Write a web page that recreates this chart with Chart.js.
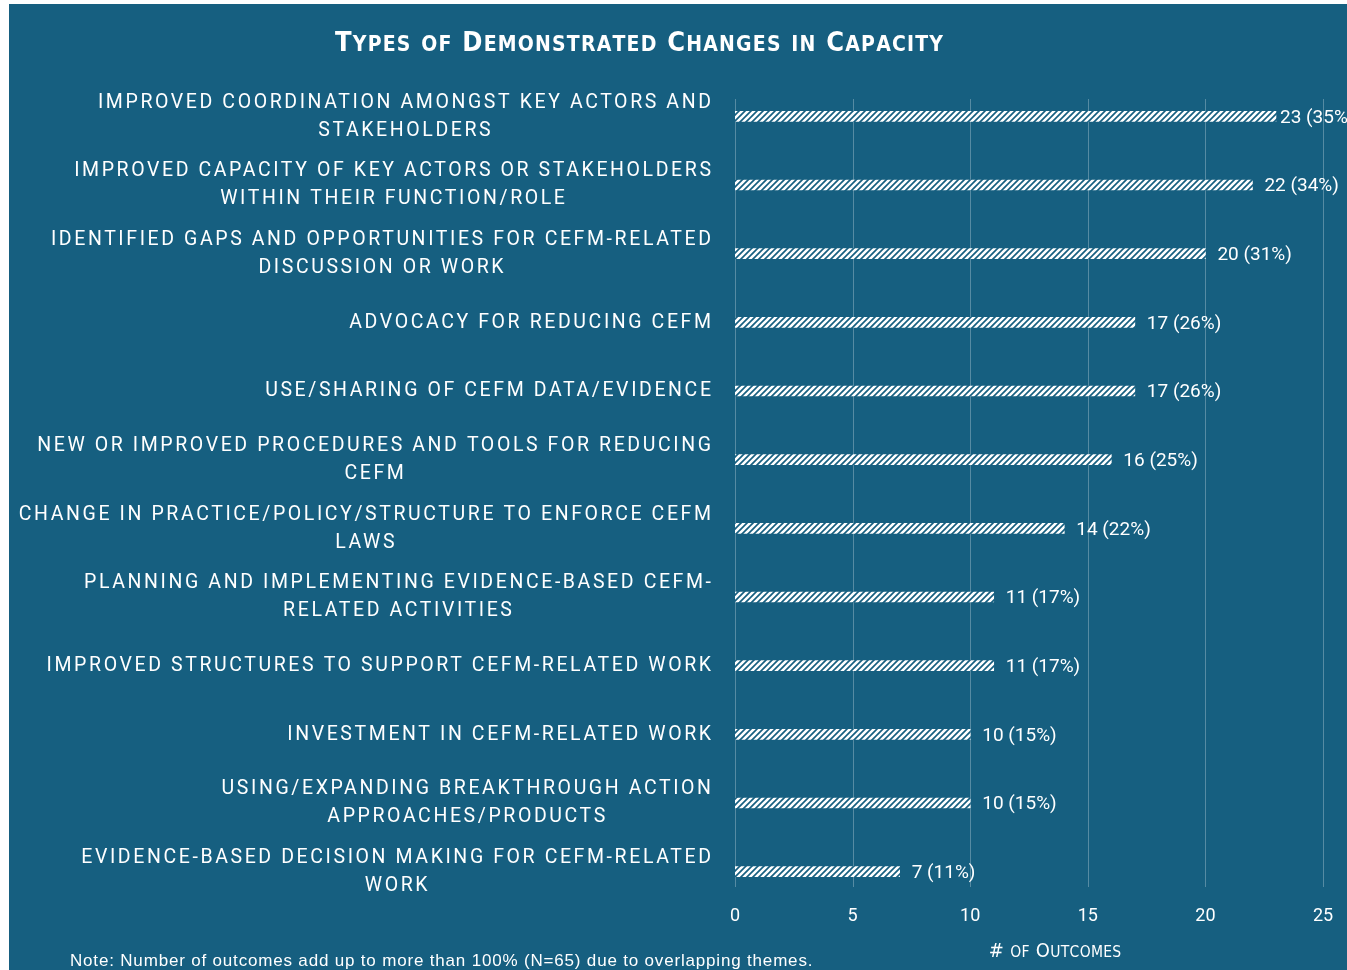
<!DOCTYPE html>
<html>
<head>
<meta charset="utf-8">
<script src="https://cdn.jsdelivr.net/npm/chart.js@4/dist/chart.umd.min.js"></script>
<style>
  html, body { margin: 0; padding: 0; background: #ffffff; width: 1347px; height: 970px; overflow: hidden; }
  #wrap { position: absolute; left: 9px; top: 4px; width: 1338px; height: 966px; }
  canvas { display: block; }
</style>
</head>
<body>
<div id="wrap"><canvas id="c" width="1338" height="966"></canvas></div>
<script>
// ---- data ----
const categories = [
  ["IMPROVED COORDINATION AMONGST KEY ACTORS AND", "STAKEHOLDERS"],
  ["IMPROVED CAPACITY OF KEY ACTORS OR STAKEHOLDERS", "WITHIN THEIR FUNCTION/ROLE"],
  ["IDENTIFIED GAPS AND OPPORTUNITIES FOR CEFM-RELATED", "DISCUSSION OR WORK"],
  ["ADVOCACY FOR REDUCING CEFM"],
  ["USE/SHARING OF CEFM DATA/EVIDENCE"],
  ["NEW OR IMPROVED PROCEDURES AND TOOLS FOR REDUCING", "CEFM"],
  ["CHANGE IN PRACTICE/POLICY/STRUCTURE TO ENFORCE CEFM", "LAWS"],
  ["PLANNING AND IMPLEMENTING EVIDENCE-BASED CEFM-", "RELATED ACTIVITIES"],
  ["IMPROVED STRUCTURES TO SUPPORT CEFM-RELATED WORK"],
  ["INVESTMENT IN CEFM-RELATED WORK"],
  ["USING/EXPANDING BREAKTHROUGH ACTION", "APPROACHES/PRODUCTS"],
  ["EVIDENCE-BASED DECISION MAKING FOR CEFM-RELATED", "WORK"]
];
const outcomes = [23, 22, 20, 17, 17, 16, 14, 11, 11, 10, 10, 7];
const percents = [35, 34, 31, 26, 26, 25, 22, 17, 17, 15, 15, 11];
const xTicks = [0, 5, 10, 15, 20, 25];
const titleText = "Types of Demonstrated Changes in Capacity";
const axisTitleText = "# of Outcomes";
const noteText = "Note: Number of outcomes add up to more than 100% (N=65) due to overlapping themes.";

// ---- styles ----
const BG = '#165F80';
const GRID = 'rgba(255,255,255,0.28)';
const LABEL_SPACING = 2.6;

function makePattern() {
  const s = 6;
  const c = document.createElement('canvas');
  c.width = s; c.height = s;
  const x = c.getContext('2d');
  x.fillStyle = BG; x.fillRect(0, 0, s, s);
  x.strokeStyle = '#ffffff'; x.lineWidth = 2.6;
  x.beginPath();
  for (let k = -1; k <= 1; k++) {
    x.moveTo(k * s - 1, s + 1); x.lineTo(k * s + s + 1, -1);
  }
  x.stroke();
  return document.getElementById('c').getContext('2d').createPattern(c, 'repeat');
}

function drawSmallCaps(ctx, text, cx, baseline, bigSize, smallSize, family, weight, spacing) {
  const runs = [];
  for (const ch of text) {
    const isLower = ch !== ch.toUpperCase();
    runs.push({ ch: ch.toUpperCase(), size: isLower ? smallSize : bigSize });
  }
  let total = 0;
  for (const r of runs) {
    ctx.font = `${weight} ${r.size}px ${family}`;
    r.w = ctx.measureText(r.ch).width + spacing;
    total += r.w;
  }
  total -= spacing;
  let x = cx - total / 2;
  ctx.textAlign = 'left';
  ctx.textBaseline = 'alphabetic';
  for (const r of runs) {
    ctx.font = `${weight} ${r.size}px ${family}`;
    ctx.fillText(r.ch, x, baseline);
    x += r.w;
  }
}

const bgPlugin = {
  id: 'bg',
  beforeDraw(chart) {
    const ctx = chart.ctx;
    ctx.save();
    ctx.fillStyle = BG;
    ctx.fillRect(0, 0, chart.width, chart.height);
    ctx.restore();
  }
};

const gridPlugin = {
  id: 'grid',
  beforeDatasetsDraw(chart) {
    const ctx = chart.ctx, xs = chart.scales.x;
    ctx.save();
    ctx.strokeStyle = GRID; ctx.lineWidth = 1;
    for (const t of xTicks) {
      const px = Math.round(xs.getPixelForValue(t)) + 0.5;
      ctx.beginPath();
      ctx.moveTo(px, 95); ctx.lineTo(px, 883);
      ctx.stroke();
    }
    ctx.restore();
  }
};

const labelsPlugin = {
  id: 'catLabels',
  afterDraw(chart) {
    const ctx = chart.ctx, ys = chart.scales.y;
    const right = chart.chartArea.left - 24;
    ctx.save();
    ctx.fillStyle = '#ffffff';
    ctx.font = '19.5px Roboto, "Noto Sans", sans-serif';
    ctx.letterSpacing = LABEL_SPACING + 'px';
    ctx.textBaseline = 'middle';
    ctx.textAlign = 'center';
    categories.forEach((lines, i) => {
      const cy = ys.getPixelForTick(i);
      let maxW = 0;
      lines.forEach(l => { maxW = Math.max(maxW, ctx.measureText(l).width - LABEL_SPACING); });
      const cx = right - maxW / 2 + LABEL_SPACING / 2;
      const y0 = cy - (lines.length - 1) * 14 + 0.5;
      lines.forEach((l, k) => ctx.fillText(l, cx, y0 + k * 28));
    });
    ctx.restore();

    // value labels
    const meta = chart.getDatasetMeta(0);
    ctx.save();
    ctx.fillStyle = '#ffffff';
    ctx.font = '19px Roboto, sans-serif';
    ctx.textBaseline = 'middle';
    ctx.textAlign = 'left';
    meta.data.forEach((bar, i) => {
      const x = Math.min(bar.x + 12, chart.chartArea.right - 43);
      ctx.fillText(`${outcomes[i]} (${percents[i]}%)`, x, bar.y + 1.5);
    });
    ctx.restore();

    // title
    ctx.save();
    ctx.fillStyle = '#ffffff';
    drawSmallCaps(ctx, titleText, 630, 47, 27, 21, '"Liberation Sans Narrow", "DejaVu Sans Condensed", sans-serif', 'bold', 1.2);
    // axis title
    drawSmallCaps(ctx, axisTitleText, 1046, 953, 20, 15.5, '"Liberation Sans Narrow", "DejaVu Sans Condensed", sans-serif', 'normal', 0.3);
    // note
    ctx.font = '17px "Liberation Sans", Arial, sans-serif';
    ctx.letterSpacing = '0.82px';
    ctx.textAlign = 'left';
    ctx.textBaseline = 'alphabetic';
    ctx.fillText(noteText, 61, 962);
    ctx.restore();
  }
};

const chart = new Chart(document.getElementById('c'), {
  type: 'bar',
  data: {
    labels: categories.map(l => l.join(' ')),
    datasets: [{
      data: outcomes,
      backgroundColor: makePattern(),
      borderWidth: 0,
      barThickness: 10
    }]
  },
  options: {
    indexAxis: 'y',
    responsive: false,
    animation: false,
    devicePixelRatio: 1,
    layout: { padding: { left: 726, right: 24, top: 78, bottom: 44 } },
    plugins: { legend: { display: false }, tooltip: { enabled: false }, title: { display: false } },
    scales: {
      y: { display: false },
      x: {
        min: 0, max: 25,
        afterBuildTicks(scale) { scale.ticks = xTicks.map(v => ({ value: v })); },
        grid: { display: false, drawTicks: false },
        border: { display: false },
        ticks: { color: '#ffffff', padding: 1, font: { family: 'Roboto, sans-serif', size: 18, lineHeight: 1 } }
      }
    }
  },
  plugins: [bgPlugin, gridPlugin, labelsPlugin]
});
</script>
</body>
</html>
